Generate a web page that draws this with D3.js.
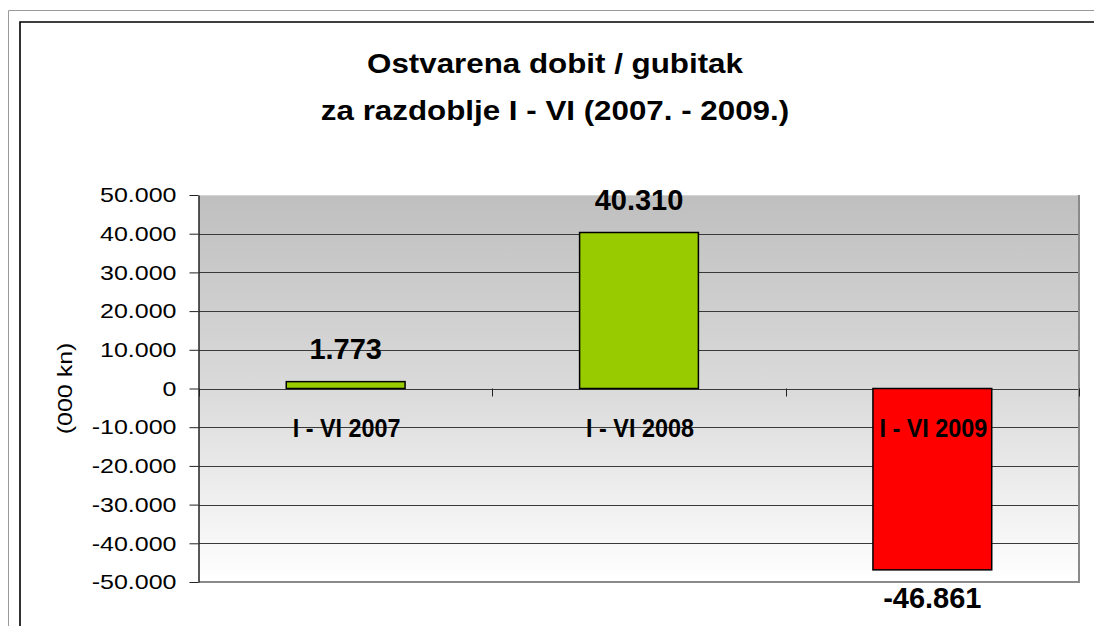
<!DOCTYPE html>
<html>
<head>
<meta charset="utf-8">
<script src="https://cdn.jsdelivr.net/npm/d3@7/dist/d3.min.js"></script>
<style>
  html, body { margin: 0; padding: 0; background: #fff; }
  svg { display: block; font-family: "Liberation Sans", Arial, sans-serif; }
</style>
</head>
<body>
<svg id="chart" width="1094" height="626"></svg>
<script>
// ---- data ----
const categories = ["I - VI 2007", "I - VI 2008", "I - VI 2009"];
const values = [1773, 40310, -46861];
const barColors = ["#99cc00", "#99cc00", "#ff0000"];
const yTicks = [-50000, -40000, -30000, -20000, -10000, 0, 10000, 20000, 30000, 40000, 50000];
const titleLines = ["Ostvarena dobit / gubitak", "za razdoblje I - VI (2007. - 2009.)"];
const yAxisTitle = "(000 kn)";

// ---- layout ----
const W = 1094, H = 626;
const plot = { left: 199, right: 1079, top: 195, bottom: 582 };

const locale = d3.formatLocale({ decimal: ",", thousands: ".", grouping: [3], currency: ["", ""], minus: "-" });
const fmt = locale.format(",d");

const svg = d3.select("#chart");

// stretch text horizontally to mimic reference rendering
function stretch(sel, factor) {
  sel.each(function () {
    const len = this.getComputedTextLength();
    d3.select(this).attr("textLength", len * factor).attr("lengthAdjust", "spacingAndGlyphs");
  });
}

// outer frames
svg.append("path")
  .attr("d", `M8.5,${H + 5} L8.5,10.5 L${W + 5},10.5`)
  .attr("fill", "none").attr("stroke", "#9a9a9a").attr("stroke-width", 1);
svg.append("path")
  .attr("d", `M20,${H + 5} L20,22 L${W + 5},22`)
  .attr("fill", "none").attr("stroke", "#000").attr("stroke-width", 1.6);

// gradient
const defs = svg.append("defs");
const grad = defs.append("linearGradient").attr("id", "bg").attr("x1", 0).attr("y1", 0).attr("x2", 0).attr("y2", 1);
grad.append("stop").attr("offset", "0%").attr("stop-color", "#bfbfbf");
grad.append("stop").attr("offset", "50%").attr("stop-color", "#dadada");
grad.append("stop").attr("offset", "100%").attr("stop-color", "#ffffff");

// scales
const y = d3.scaleLinear().domain([-50000, 50000]).range([plot.bottom, plot.top]);
const x = d3.scaleBand().domain(categories).range([plot.left, plot.right]).padding(0);
const barFrac = 0.405;

// plot background
svg.append("rect")
  .attr("x", plot.left).attr("y", plot.top)
  .attr("width", plot.right - plot.left).attr("height", plot.bottom - plot.top)
  .attr("fill", "url(#bg)");

// top border of plot (light)
svg.append("line")
  .attr("x1", plot.left).attr("x2", plot.right)
  .attr("y1", plot.top + 0.5).attr("y2", plot.top + 0.5)
  .attr("stroke", "#d4d4d4").attr("stroke-width", 1);

// gridlines
svg.append("g").selectAll("line")
  .data(yTicks.filter(t => t > -50000 && t < 50000))
  .join("line")
  .attr("x1", plot.left).attr("x2", plot.right)
  .attr("y1", d => Math.round(y(d)) + 0.5).attr("y2", d => Math.round(y(d)) + 0.5)
  .attr("stroke", "#3a3a3a").attr("stroke-width", 1);

// right & bottom border
svg.append("path")
  .attr("d", `M${plot.left},${plot.bottom} L${plot.right},${plot.bottom} L${plot.right},${plot.top}`)
  .attr("fill", "none").attr("stroke", "#8a8a8a").attr("stroke-width", 2);

// category ticks on zero line
const bounds = categories.map(c => x(c)).concat([plot.right]);
svg.append("g").selectAll("line")
  .data(bounds)
  .join("line")
  .attr("x1", d => Math.round(d) + 0.5).attr("x2", d => Math.round(d) + 0.5)
  .attr("y1", y(0)).attr("y2", y(0) + 8)
  .attr("stroke", "#222").attr("stroke-width", 1);

// bars
svg.append("g").selectAll("rect")
  .data(values)
  .join("rect")
  .attr("x", (d, i) => x(categories[i]) + x.bandwidth() * (1 - barFrac) / 2)
  .attr("width", x.bandwidth() * barFrac)
  .attr("y", d => y(Math.max(0, d)))
  .attr("height", d => Math.abs(y(d) - y(0)))
  .attr("fill", (d, i) => barColors[i])
  .attr("stroke", "#000").attr("stroke-width", 1.5);

// y axis
const yAxis = svg.append("g")
  .attr("transform", `translate(${plot.left - 0.5},0)`)
  .call(d3.axisLeft(y).tickValues(yTicks).tickFormat(fmt).tickSize(9).tickSizeOuter(0).tickPadding(13));
yAxis.select(".domain").attr("stroke", "#222").attr("stroke-width", 1.5);
yAxis.selectAll(".tick line").attr("stroke", "#222");
yAxis.selectAll(".tick text")
  .attr("font-size", 21).attr("fill", "#000")
  .attr("font-family", "Liberation Sans, Arial, sans-serif")
  .call(stretch, 1.19);

// y axis title
svg.append("text")
  .attr("transform", `translate(72,${(plot.top + plot.bottom) / 2}) rotate(-90)`)
  .attr("text-anchor", "middle")
  .attr("font-size", 21)
  .text(yAxisTitle)
  .call(stretch, 1.19);

// category labels
svg.append("g").selectAll("text")
  .data(categories)
  .join("text")
  .attr("x", d => x(d) + x.bandwidth() / 2 + 1)
  .attr("y", y(0) + 48)
  .attr("text-anchor", "middle")
  .attr("font-size", 25).attr("font-weight", "bold")
  .text(d => d)
  .call(stretch, 0.935);

// value labels
svg.append("g").selectAll("text")
  .data(values)
  .join("text")
  .attr("x", (d, i) => x(categories[i]) + x.bandwidth() / 2)
  .attr("y", d => d >= 0 ? y(d) - 23 : y(d) + 38)
  .attr("text-anchor", "middle")
  .attr("font-size", 29).attr("font-weight", "bold")
  .text(d => fmt(d));

// title
svg.append("g").selectAll("text")
  .data(titleLines)
  .join("text")
  .attr("x", 555)
  .attr("y", (d, i) => 72.5 + i * 47)
  .attr("text-anchor", "middle")
  .attr("font-size", 27).attr("font-weight", "bold")
  .text(d => d)
  .call(stretch, 1.16);
</script>
</body>
</html>
